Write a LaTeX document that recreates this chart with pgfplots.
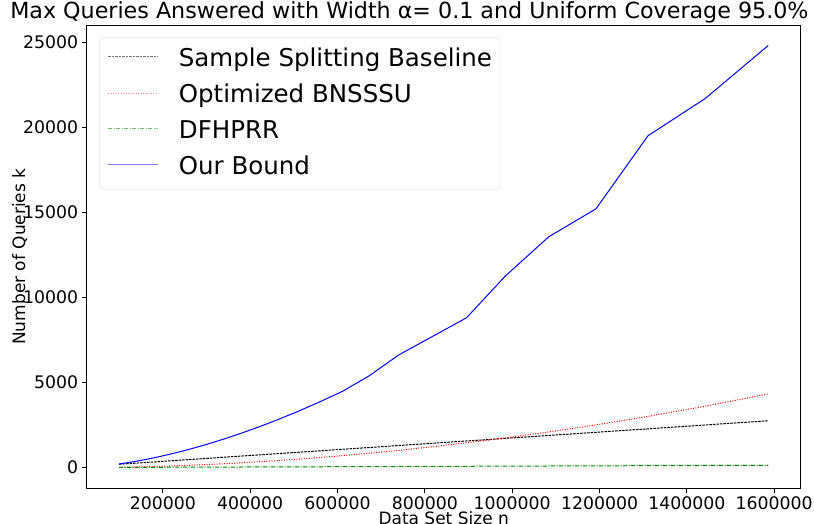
\documentclass[border=0pt]{standalone}
\usepackage{fontspec}
\setmainfont{DejaVu Sans}
\usepackage{pgfplots}
\pgfplotsset{compat=1.18}
\usepackage{pgfplotstable}

\pgfplotstableread{
n       base   bns    dfh   ours
100000  200    23     15    218
110000  217    27     16    256
121000  236    33     17    300
133100  257    39     18    351
146410  280    47     19    412
161051  305    56     20    483
177156  333    67     21    567
194872  363    81     23    664
214359  397    97     25    779
235795  434    116    26    913
259374  474    139    28    1071
285312  519    166    31    1256
313843  568    199    33    1472
345227  622    239    36    1726
379750  681    286    39    2024
417725  746    343    42    2373
459497  818    411    45    2783
505447  897    493    49    3263
555992  984    591    53    3827
611591  1080   708    58    4486
672750  1185   848    63    5400
740025  1301   1017   69    6620
814027  1428   1219   75    7660
895430  1568   1461   82    8806
984973  1722   1750   89    11276
1083471 1892   2098   98    13559
1191818 2078   2514   107   15206
1311000 2283   3013   117   19500
1442099 2508   3612   128   21688
1586309 2756   4329   140   24800
}\datatable

\definecolor{legblack}{RGB}{120,120,120}
\definecolor{legred}{RGB}{255,140,140}
\definecolor{leggreen}{RGB}{110,190,110}
\definecolor{legblue}{RGB}{125,125,255}

\begin{document}
\begin{tikzpicture}
\begin{axis}[
  scale only axis,
  width=714bp, height=463.3bp,
  xmin=25685, xmax=1660624,
  ymin=-1212, ymax=26005,
  xtick={200000,400000,600000,800000,1000000,1200000,1400000,1600000},
  ytick={0,5000,10000,15000,20000,25000},
  scaled x ticks=false, scaled y ticks=false,
  /pgf/number format/assume math mode=true,
  xticklabel style={/pgf/number format/fixed,/pgf/number format/1000 sep={}},
  yticklabel style={/pgf/number format/fixed,/pgf/number format/1000 sep={}},
  tick label style={font=\fontsize{17.3bp}{19bp}\selectfont},
  tick align=outside, xtick pos=left, ytick pos=left,
  major tick length=5bp,
  tick style={black, line width=0.8bp},
  axis line style={line width=0.8bp},
  xlabel={Data Set Size n},
  ylabel={Number of Queries k},
  label style={font=\fontsize{17bp}{20bp}\selectfont},
  xlabel style={at={(axis description cs:0.5,0)}, anchor=center, yshift=-30bp},
  ylabel style={at={(axis description cs:0,0.5)}, anchor=center, yshift=67bp},
  title={Max Queries Answered with Width α= 0.1 and Uniform Coverage 95.0\%},
  title style={font=\fontsize{22.2bp}{24bp}\selectfont, at={(axis description cs:0.452,1)}, anchor=south, yshift=-6bp, inner sep=2bp},
  legend style={at={(axis description cs:0.0182,0.974)}, anchor=north west,
     draw=black!15, rounded corners=3bp, font=\fontsize{24.5bp}{28bp}\selectfont,
     inner xsep=6bp, inner ysep=4bp, row sep=0bp,
     nodes={inner ysep=0bp, text height=25bp, text depth=11bp}},
  legend cell align=left,
  legend image code/.code={\path (0bp,0bp) (70bp,0bp);},
]
\addplot[black, line width=1bp, dash pattern=on 2.5bp off 1bp] table[x=n,y=base]{\datatable};
\addlegendentry{Sample Splitting Baseline}
\addplot[red, line width=1bp, dash pattern=on 1bp off 1.5bp] table[x=n,y=bns]{\datatable};
\addlegendentry{Optimized BNSSSU}
\addplot[green!55!black, line width=1bp, dash pattern=on 4bp off 1.5bp on 1bp off 1.5bp] table[x=n,y=dfh]{\datatable};
\addlegendentry{DFHPRR}
\addplot[blue, line width=1bp] table[x=n,y=ours]{\datatable};
\addlegendentry{Our Bound}
\end{axis}
% legend key lines (decoration only)
\draw[legblack, line width=1bp, dash pattern=on 2.5bp off 1bp] (21.3bp,431.6bp) -- (71.3bp,431.6bp);
\draw[legred, line width=1bp, dash pattern=on 1bp off 1.5bp] (21.3bp,395bp) -- (71.3bp,395bp);
\draw[leggreen, line width=1bp, dash pattern=on 4bp off 1.5bp on 1bp off 1.5bp] (21.3bp,359.3bp) -- (71.3bp,359.3bp);
\draw[legblue, line width=1.2bp] (21.3bp,324bp) -- (71.3bp,324bp);
\pgfresetboundingbox
\path (-86.7bp,-35.7bp) rectangle (727.3bp,488.3bp);
\end{tikzpicture}
\end{document}
